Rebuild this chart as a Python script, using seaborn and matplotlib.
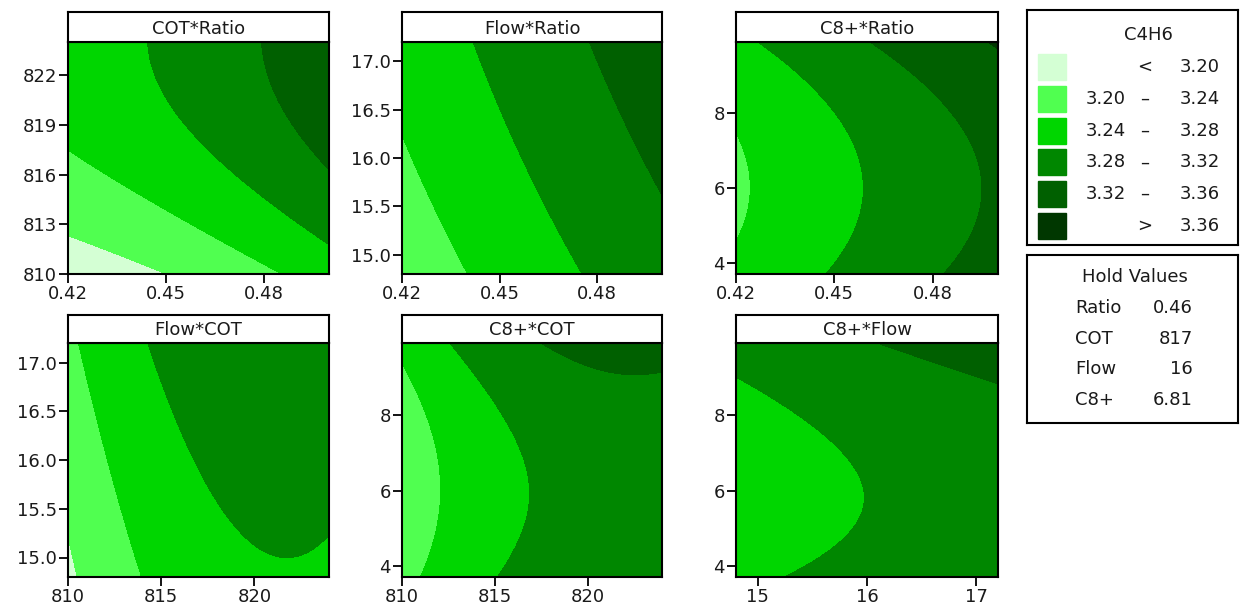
import numpy as np
import seaborn as sns
import matplotlib.pyplot as plt
from matplotlib.patches import Rectangle

sns.set_style("ticks")
plt.rcParams["font.family"] = ["DejaVu Sans"]

# factor ranges (low, high) and hold values
ratio_range = (0.42, 0.50)
cot_range = (810, 824)
flow_range = (14.8, 17.2)
c8_range = (3.72, 9.9)
hold_names = ["Ratio", "COT", "Flow", "C8+"]
hold_values = ["0.46", "817", "16", "6.81"]

levels = [3.20, 3.24, 3.28, 3.32, 3.36]
colors = ["#d4ffd4", "#50ff50", "#00d600", "#008700", "#006000", "#003700"]
legend_labels = [("", "<", "3.20"), ("3.20", "–", "3.24"), ("3.24", "–", "3.28"),
                 ("3.28", "–", "3.32"), ("3.32", "–", "3.36"), ("", ">", "3.36")]

# quadratic response surface per panel, in coded units (-1..1):
# C4H6 = b0 + b1*x + b2*y + b3*x^2 + b4*y^2 + b5*x*y  (other factors at hold values)
coef_cot_ratio = [3.27377, 0.04376, 0.04323, 0.00722, -0.02050, 0.00142]
coef_flow_ratio = [3.28355, 0.04493, 0.01890, -0.00231, -0.00172, -0.00023]
coef_c8_ratio = [3.28285, 0.04533, 0.01234, -0.00121, 0.02375, 0.00042]
coef_flow_cot = [3.28137, 0.03852, 0.01768, -0.02973, -0.00033, -0.00206]
coef_c8_cot = [3.28258, 0.04009, 0.01268, -0.02628, 0.02201, 0.00214]
coef_c8_flow = [3.28263, 0.01869, 0.01405, -0.00206, 0.02162, 0.00384]

ranges = {"Ratio": ratio_range, "COT": cot_range, "Flow": flow_range, "C8+": c8_range}
panels = [("Ratio", "COT", "COT*Ratio", coef_cot_ratio),
          ("Ratio", "Flow", "Flow*Ratio", coef_flow_ratio),
          ("Ratio", "C8+", "C8+*Ratio", coef_c8_ratio),
          ("COT", "Flow", "Flow*COT", coef_flow_cot),
          ("COT", "C8+", "C8+*COT", coef_c8_cot),
          ("Flow", "C8+", "C8+*Flow", coef_c8_flow)]
xticks = {"Ratio": [0.42, 0.45, 0.48], "COT": [810, 815, 820], "Flow": [15, 16, 17]}
yticks = {"COT": [810, 813, 816, 819, 822], "Flow": [15.0, 15.5, 16.0, 16.5, 17.0], "C8+": [4, 6, 8]}


def coded(name, v):
    lo, hi = ranges[name]
    return (v - (lo + hi) / 2) / ((hi - lo) / 2)


FS = 13
W, H = 1240, 615
fig = plt.figure(figsize=(12.4, 6.15), dpi=100)
cols = [(68, 261), (402, 260), (736, 262)]
rows = [(42, 232, 30), (343, 234, 28)]

for i, (xn, yn, title, b) in enumerate(panels):
    (x0, w), (y0, h, th) = cols[i % 3], rows[i // 3]
    ax = fig.add_axes([x0 / W, 1 - (y0 + h) / H, w / W, h / H])
    tax = fig.add_axes([x0 / W, 1 - y0 / H, w / W, th / H])

    X, Y = np.meshgrid(np.linspace(*ranges[xn], 300), np.linspace(*ranges[yn], 300))
    u, v = coded(xn, X), coded(yn, Y)
    Z = b[0] + b[1] * u + b[2] * v + b[3] * u ** 2 + b[4] * v ** 2 + b[5] * u * v
    ax.contourf(X, Y, Z, levels=[-10] + levels + [10], colors=colors)

    ax.set_xlim(*ranges[xn])
    ax.set_ylim(*ranges[yn])
    ax.set_xticks(xticks[xn])
    ax.set_yticks(yticks[yn])
    if yn == "Flow":
        ax.set_yticklabels([f"{t:.1f}" for t in yticks[yn]])
    ax.tick_params(labelsize=FS, length=6.5, width=1.3, color="black", labelcolor="#1a1a1a", pad=1.5)
    for s in ax.spines.values():
        s.set_linewidth(1.5)
        s.set_color("black")

    tax.set_xticks([])
    tax.set_yticks([])
    for s in tax.spines.values():
        s.set_linewidth(1.5)
        s.set_color("black")
    tax.text(0.5, 0.45, title, ha="center", va="center", fontsize=FS, color="#1a1a1a", transform=tax.transAxes)

# contour legend box
lax = fig.add_axes([1027 / W, 1 - 245 / H, 211 / W, 235 / H])
lax.set_xlim(1027, 1238)
lax.set_ylim(245, 10)
lax.set_xticks([])
lax.set_yticks([])
for s in lax.spines.values():
    s.set_linewidth(1.5)
    s.set_color("black")
lax.text(1148, 35, "C4H6", ha="center", va="center", fontsize=FS, color="#1a1a1a")
for k, (a, dash, c) in enumerate(legend_labels):
    yc = 67 + k * 31.8
    lax.add_patch(Rectangle((1038, yc - 13), 28, 26, color=colors[k]))
    lax.text(1126, yc, a, ha="right", va="center", fontsize=FS, color="#1a1a1a")
    lax.text(1145, yc, dash, ha="center", va="center", fontsize=FS, color="#1a1a1a")
    lax.text(1220, yc, c, ha="right", va="center", fontsize=FS, color="#1a1a1a")

# hold values box
hax = fig.add_axes([1027 / W, 1 - 423 / H, 211 / W, 168 / H])
hax.set_xlim(1027, 1238)
hax.set_ylim(423, 255)
hax.set_xticks([])
hax.set_yticks([])
for s in hax.spines.values():
    s.set_linewidth(1.5)
    s.set_color("black")
hax.text(1135, 277, "Hold Values", ha="center", va="center", fontsize=FS, color="#1a1a1a")
for k, (name, val) in enumerate(zip(hold_names, hold_values)):
    yc = 308 + k * 30.7
    hax.text(1075, yc, name, ha="left", va="center", fontsize=FS, color="#1a1a1a")
    hax.text(1193, yc, val, ha="right", va="center", fontsize=FS, color="#1a1a1a")

fig.savefig("out.png", dpi=100)
